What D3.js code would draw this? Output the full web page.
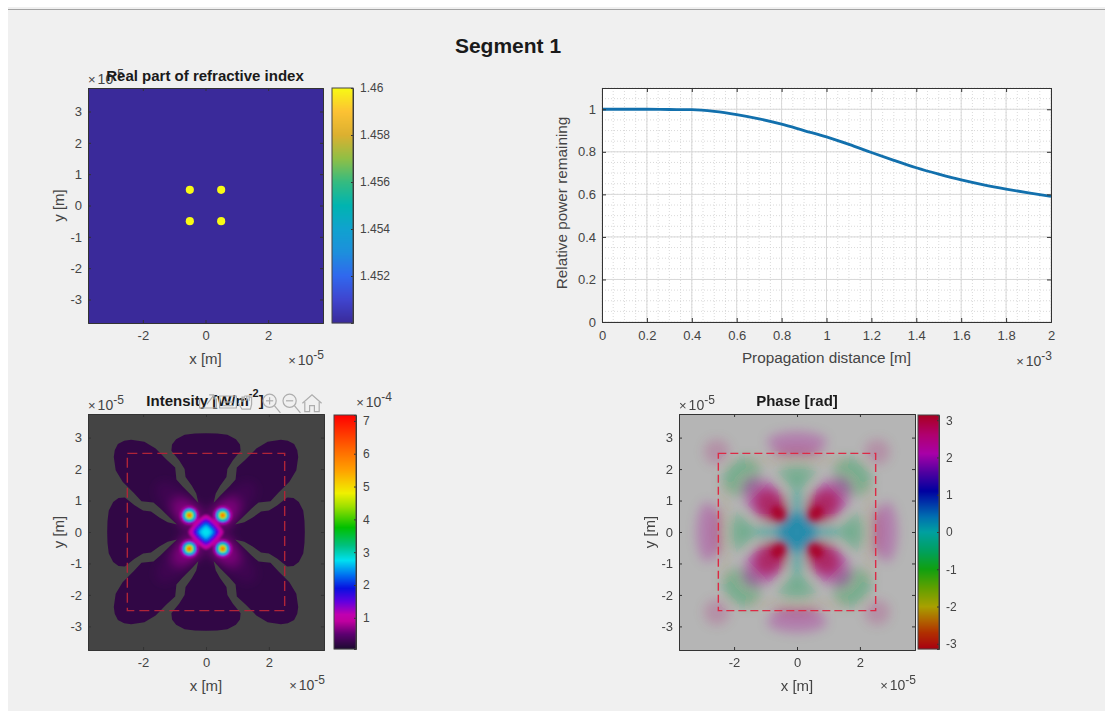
<!DOCTYPE html>
<html>
<head>
<meta charset="utf-8">
<script src="https://d3js.org/d3.v7.min.js"></script>
<style>
  html, body { margin: 0; padding: 0; background: #fff; overflow: hidden; }
  text { font-family: "Liberation Sans", Arial, sans-serif; }
</style>
</head>
<body>
<div id="chart"></div>
<script>
// --- data ---
const spatialTicks = [-3, -2, -1, 0, 1, 2, 3];
const spatialTicksX = [-2, 0, 2];
const spatialExtent = [-3.75, 3.75];

// refractive index panel: core centres (1e-5 m) and radius
const coreCentres = [[-0.5, 0.5], [0.5, 0.5], [-0.5, -0.5], [0.5, -0.5]];
const coreRadius = 0.13;
const coreIndex = 1.46;
const claddingIndex = 1.45;
const indexTicks = [1.452, 1.454, 1.456, 1.458, 1.46];
const indexStops = [1.45, 1.451, 1.452, 1.453, 1.454, 1.455, 1.456, 1.457, 1.458, 1.459, 1.46];
const indexColors = ["#3a2a9a", "#3f45cf", "#3068ee", "#1d8fdc", "#10a2cf", "#00b4b0", "#35bb80", "#90bf45", "#dcb030", "#fcc233", "#f8fa14"];

// power curve
const distance = [0, 0.1, 0.2, 0.3, 0.4, 0.5, 0.6, 0.7, 0.8, 0.9, 1, 1.1, 1.2, 1.3, 1.4, 1.5, 1.6, 1.7, 1.8, 1.9, 2];
const power = [1, 1, 1, 0.999, 0.998, 0.99, 0.975, 0.955, 0.93, 0.9, 0.87, 0.835, 0.797, 0.76, 0.725, 0.695, 0.668, 0.645, 0.625, 0.607, 0.59];
const distanceTicks = [0, 0.2, 0.4, 0.6, 0.8, 1, 1.2, 1.4, 1.6, 1.8, 2];
const powerTicks = [0, 0.2, 0.4, 0.6, 0.8, 1];
const minorDistance = d3.range(0, 2.001, 0.05);
const minorPower = d3.range(0, 1.101, 0.05);

// intensity panel (values in 1e-4 W/m^2, lengths in 1e-5 m)
const intensityTicks = [1, 2, 3, 4, 5, 6, 7];
const intensityStops = [0.05, 0.5, 0.9, 1.1, 1.5, 1.9, 2.3, 2.75, 3.2, 3.75, 4.4, 4.8, 5.5, 6.2, 7.18];
const intensityColors = ["#1c0a30", "#5c0070", "#c000a0", "#c000b0", "#6000e0", "#0810e0", "#0070f0", "#00e0f0", "#00c080", "#00c000", "#a0e000", "#f0f000", "#ffa000", "#ff6000", "#ff0000"];
// outline of the non-zero region, one octant, from top axis to the diagonal
const lobeOutline = [[0, 3.14], [0.35, 3.13], [0.68, 3.09], [0.95, 2.95], [1.08, 2.78], [1.1, 2.58], [0.85, 2.27], [0.68, 2.0], [0.65, 1.75], [0.45, 1.47], [0.31, 1.22], [0.24, 0.92], [0.45, 1.15], [0.75, 1.45], [0.94, 1.67], [0.98, 2.05], [1.25, 2.3], [1.6, 2.65], [1.96, 2.87], [2.38, 2.93], [2.6, 2.9], [2.8, 2.8]];
const floorIntensity = 0.2;
// x, y, rx, ry, angle, value, alpha
const intensityHaze = [
  [1.0, 1.0, 0.75, 0.4, 45, 0.5, 0.28],
  [0.75, 0.75, 0.42, 0.34, 45, 0.8, 0.45],
  [0.42, 0, 0.45, 0.1, 0, 0.5, 0.35],
  [0.53, 0.53, 0.42, 0.42, 0, 0.7, 0.7]
];
const intensityPeaks = [
  [0.53, 0.53, 0.3, 0.3, 0, 1.0, 1],
  [0.53, 0.53, 0.24, 0.24, 0, 1.9, 1],
  [0.53, 0.53, 0.19, 0.19, 0, 2.75, 1],
  [0.53, 0.53, 0.14, 0.14, 0, 3.75, 1],
  [0.53, 0.53, 0.1, 0.1, 0, 4.8, 1],
  [0.53, 0.53, 0.06, 0.06, 0, 6.6, 1]
];
// central diamond: half diagonal and value
const diamondRings = [[0.56, 0.9], [0.47, 1.1], [0.41, 1.5], [0.34, 1.9], [0.28, 2.3], [0.21, 2.6], [0.13, 2.75]];

// phase panel
const phaseTicks = [-3, -2, -1, 0, 1, 2, 3];
const phaseStops = [-3.14, -2.7, -2.4, -2, -1.5, -1, -0.5, 0, 0.4, 0.8, 1.1, 1.6, 2.1, 2.6, 3.14];
const phaseColors = ["#a80010", "#b03000", "#b06000", "#a8a000", "#60a000", "#10a010", "#00a060", "#00a0a0", "#0070b0", "#0030a8", "#0000a0", "#5000a0", "#a800a8", "#b00070", "#a80020"];
// x, y, rx, ry, angle, phase, alpha
const phaseLobes = [
  [0, 2.85, 0.95, 0.34, 0, 2.2, 0.3],
  [0, 2.5, 0.8, 0.14, 0, 3, 0.32],
  [2.55, 2.55, 0.4, 0.4, 0, 2.6, 0.2],
  [1.0, 2.3, 0.75, 0.08, 0, -2.3, 0.12],
  [1.75, 1.75, 0.66, 0.55, 135, -0.7, 0.32],
  [0, 1.85, 0.6, 0.36, 0, -0.7, 0.26],
  [0, 1.4, 0.3, 0.45, 0, -0.5, 0.22],
  [0, 0.8, 0.24, 0.42, 0, 0, 0.45],
  [1.05, 1.05, 0.82, 0.56, 45, 2.2, 0.42],
  [0.82, 0.82, 0.62, 0.46, 45, 2.95, 0.6],
  [0, 0, 0.62, 0.62, 0, 0.25, 0.78]
];
const phaseCores = [[0.6, 0.6, 0.26, 0.2, 45, 3.1, 0.95]];
const guideBox = 2.5;

// --- layout ---
const W = 1105, H = 711;
const tickColor = "#444";
const panels = {
  index: { left: 88, top: 88, size: 235, expY: 42, cbLeft: 332, cbTop: 88, cbW: 21, cbH: 235 },
  line: { left: 602, top: 88, width: 449, height: 234 },
  intensity: { left: 88, top: 414, size: 236, expY: 40, cbLeft: 334, cbTop: 415, cbW: 22, cbH: 234 },
  phase: { left: 679, top: 414, size: 236, expY: 40, cbLeft: 918, cbTop: 415, cbW: 21, cbH: 234 }
};

const svg = d3.select("#chart").append("svg")
  .attr("width", W)
  .attr("height", H)
  .style("display", "block");

const defs = svg.append("defs");
[["blur1", 1.1], ["blur3", 5], ["blur5", 5.5], ["blurCore", 3]].forEach(([id, s]) => {
  defs.append("filter").attr("id", id)
    .attr("x", "-50%").attr("y", "-50%").attr("width", "200%").attr("height", "200%")
    .append("feGaussianBlur").attr("stdDeviation", s);
});

svg.append("rect").attr("x", 8).attr("y", 7).attr("width", W - 8).attr("height", H - 7).attr("fill", "#f0f0f0");
svg.append("line").attr("x1", 8).attr("x2", W).attr("y1", 9.5).attr("y2", 9.5).attr("stroke", "#a3a3a3").attr("stroke-width", 1.2);

svg.append("text").attr("x", 508).attr("y", 53).attr("text-anchor", "middle")
  .attr("font-size", 21).attr("font-weight", "bold").attr("fill", "#1a1a1a").text("Segment 1");

// D4 symmetry, used to copy a quarter of a pattern over the whole field
const symmetry = [[1, 0, 0, 1], [-1, 0, 0, 1], [1, 0, 0, -1], [-1, 0, 0, -1], [0, 1, 1, 0], [0, -1, 1, 0], [0, 1, -1, 0], [0, -1, -1, 0]];

function mirrored(rows) {
  const out = [];
  rows.forEach(r => {
    const seen = new Set();
    symmetry.forEach(([a, b, c, d]) => {
      const x = a * r[0] + b * r[1], y = c * r[0] + d * r[1];
      const key = x.toFixed(3) + "," + y.toFixed(3);
      if (seen.has(key)) return;
      seen.add(key);
      const t = r[4] * Math.PI / 180;
      const ang = Math.atan2(c * Math.cos(t) + d * Math.sin(t), a * Math.cos(t) + b * Math.sin(t)) * 180 / Math.PI;
      out.push({ x: x, y: y, rx: r[2], ry: r[3], angle: ang, value: r[5], alpha: r[6] });
    });
  });
  return out;
}

function fullOutline(oct) {
  const rev = oct.slice().reverse();
  return [
    ...oct,
    ...rev.map(([x, y]) => [y, x]),
    ...oct.map(([x, y]) => [y, -x]),
    ...rev.map(([x, y]) => [x, -y]),
    ...oct.map(([x, y]) => [-x, -y]),
    ...rev.map(([x, y]) => [-y, -x]),
    ...oct.map(([x, y]) => [-y, x]),
    ...rev.map(([x, y]) => [-x, y])
  ];
}

function exponentLabel(g, x, y, anchor, power) {
  const t = g.append("text").attr("x", x).attr("y", y).attr("text-anchor", anchor).attr("fill", tickColor).attr("font-size", 14);
  t.append("tspan").attr("font-size", 13).text("\u00d7");
  t.append("tspan").attr("dx", 2).text("10");
  t.append("tspan").attr("dy", -6).attr("font-size", 12).text(power);
}

function styleAxis(g, ticksOnly, fontSize) {
  g.select(".domain").attr("stroke", "#333").attr("stroke-width", 1);
  g.selectAll(".tick line").attr("stroke", "#333");
  g.selectAll(".tick text").attr("fill", tickColor).style("font-size", (fontSize || 13) + "px")
    .style("font-family", '"Liberation Sans", Arial, sans-serif');
  if (ticksOnly) g.selectAll(".tick text").remove();
}

// image panel frame: scales, clip, box axes, labels
function imagePanel(p, id) {
  const g = svg.append("g").attr("transform", `translate(${p.left},${p.top})`);
  const x = d3.scaleLinear().domain(spatialExtent).range([0, p.size]);
  const y = d3.scaleLinear().domain(spatialExtent).range([p.size, 0]);
  defs.append("clipPath").attr("id", id).append("rect").attr("width", p.size).attr("height", p.size);
  const body = g.append("g").attr("clip-path", `url(#${id})`);
  return { g, x, y, body, p };
}

function finishPanel(panel) {
  const { g, x, y, p } = panel;
  g.append("g").attr("transform", `translate(0,${p.size})`)
    .call(d3.axisBottom(x).tickValues(spatialTicksX).tickSize(-3).tickPadding(8).tickFormat(String)).call(a => styleAxis(a));
  g.append("g").call(d3.axisLeft(y).tickValues(spatialTicks).tickSize(-3).tickPadding(6).tickFormat(String)).call(a => styleAxis(a));
  g.append("g").call(d3.axisTop(x).tickValues(spatialTicksX).tickSize(-3)).call(a => styleAxis(a, true));
  g.append("g").attr("transform", `translate(${p.size},0)`).call(d3.axisRight(y).tickValues(spatialTicks).tickSize(-3)).call(a => styleAxis(a, true));
  g.append("text").attr("x", p.size / 2).attr("y", p.size + 41).attr("text-anchor", "middle")
    .attr("fill", tickColor).attr("font-size", 15).text("x [m]");
  g.append("text").attr("transform", `translate(-24,${p.size / 2}) rotate(-90)`).attr("text-anchor", "middle")
    .attr("fill", tickColor).attr("font-size", 15).text("y [m]");
  exponentLabel(g, p.size + 1, p.size + p.expY, "end", "-5");
  exponentLabel(g, 0, -4, "start", "-5");
}

function colorbar(p, domain, color, ticks, format) {
  const g = svg.append("g").attr("transform", `translate(${p.cbLeft},${p.cbTop})`);
  const y = d3.scaleLinear().domain(domain).range([p.cbH, 0]);
  g.selectAll("rect").data(d3.range(p.cbH)).enter().append("rect")
    .attr("x", 0).attr("y", d => d).attr("width", p.cbW).attr("height", 1.2)
    .attr("fill", d => color(y.invert(d + 0.5)));
  const ax = g.append("g").attr("transform", `translate(${p.cbW},0)`)
    .call(d3.axisRight(y).tickValues(ticks).tickSize(-2).tickPadding(7).tickFormat(format));
  styleAxis(ax, false, 12);
  g.append("rect").attr("width", p.cbW).attr("height", p.cbH).attr("fill", "none").attr("stroke", "#444").attr("stroke-width", 1);
  return g;
}

function drawLobes(sel, rows, panel, color) {
  const { x, y } = panel;
  const ux = x(1) - x(0);
  sel.selectAll("ellipse").data(mirrored(rows)).enter().append("ellipse")
    .attr("transform", d => `translate(${x(d.x)},${y(d.y)}) rotate(${-d.angle})`)
    .attr("rx", d => d.rx * ux)
    .attr("ry", d => d.ry * ux)
    .attr("fill", d => color(d.value))
    .attr("opacity", d => d.alpha);
}

function drawGuide(panel, stroke, dash) {
  const { x, y, body } = panel;
  body.append("rect")
    .attr("x", x(-guideBox)).attr("y", y(guideBox))
    .attr("width", x(guideBox) - x(-guideBox)).attr("height", y(-guideBox) - y(guideBox))
    .attr("fill", "none").attr("stroke", stroke).attr("stroke-width", 1.4).attr("stroke-dasharray", dash);
}

// ---- top left: refractive index
const indexColor = d3.scaleLinear().domain(indexStops).range(indexColors);
const pIndex = imagePanel(panels.index, "clipIndex");
pIndex.body.append("rect").attr("width", panels.index.size).attr("height", panels.index.size).attr("fill", indexColor(claddingIndex));
pIndex.body.selectAll("circle").data(coreCentres).enter().append("circle")
  .attr("cx", d => pIndex.x(d[0])).attr("cy", d => pIndex.y(d[1]))
  .attr("r", pIndex.x(coreRadius) - pIndex.x(0)).attr("fill", indexColor(coreIndex));
finishPanel(pIndex);
colorbar(panels.index, [claddingIndex, coreIndex], indexColor, indexTicks, String);
svg.append("text").attr("x", 205).attr("y", 81).attr("text-anchor", "middle")
  .attr("font-size", 15).attr("font-weight", "bold").attr("fill", "#1a1a1a").text("Real part of refractive index");

// ---- top right: power
(function () {
  const p = panels.line;
  const g = svg.append("g").attr("transform", `translate(${p.left},${p.top})`);
  const x = d3.scaleLinear().domain([0, 2]).range([0, p.width]);
  const y = d3.scaleLinear().domain([0, 1.1]).range([p.height, 0]);
  g.append("rect").attr("width", p.width).attr("height", p.height).attr("fill", "#fff");
  g.selectAll(".minorx").data(minorDistance).enter().append("line").attr("class", "minorx")
    .attr("x1", d => x(d)).attr("x2", d => x(d)).attr("y1", 0).attr("y2", p.height)
    .attr("stroke", "#d0d0d0").attr("stroke-width", 0.8).attr("stroke-dasharray", "1,2");
  g.selectAll(".minory").data(minorPower).enter().append("line").attr("class", "minory")
    .attr("y1", d => y(d)).attr("y2", d => y(d)).attr("x1", 0).attr("x2", p.width)
    .attr("stroke", "#d0d0d0").attr("stroke-width", 0.8).attr("stroke-dasharray", "1,2");
  g.selectAll(".majorx").data(distanceTicks).enter().append("line").attr("class", "majorx")
    .attr("x1", d => x(d)).attr("x2", d => x(d)).attr("y1", 0).attr("y2", p.height)
    .attr("stroke", "#d8d8d8").attr("stroke-width", 1);
  g.selectAll(".majory").data(powerTicks).enter().append("line").attr("class", "majory")
    .attr("y1", d => y(d)).attr("y2", d => y(d)).attr("x1", 0).attr("x2", p.width)
    .attr("stroke", "#d8d8d8").attr("stroke-width", 1);
  g.append("path").datum(distance.map((d, i) => [d, power[i]]))
    .attr("fill", "none").attr("stroke", "#1270ad").attr("stroke-width", 2.8)
    .attr("d", d3.line().x(d => x(d[0])).y(d => y(d[1])).curve(d3.curveMonotoneX));
  g.append("g").attr("transform", `translate(0,${p.height})`)
    .call(d3.axisBottom(x).tickValues(distanceTicks).tickSize(-4).tickPadding(9).tickFormat(String)).call(a => styleAxis(a));
  g.append("g").call(d3.axisLeft(y).tickValues(powerTicks).tickSize(-4).tickPadding(6).tickFormat(String)).call(a => styleAxis(a));
  g.append("g").call(d3.axisTop(x).tickValues(distanceTicks).tickSize(-4)).call(a => styleAxis(a, true));
  g.append("g").attr("transform", `translate(${p.width},0)`).call(d3.axisRight(y).tickValues(powerTicks).tickSize(-4)).call(a => styleAxis(a, true));
  g.append("text").attr("x", p.width / 2).attr("y", p.height + 41).attr("text-anchor", "middle")
    .attr("fill", tickColor).attr("font-size", 15.3).text("Propagation distance [m]");
  g.append("text").attr("transform", `translate(-35,${p.height / 2 - 2}) rotate(-90)`).attr("text-anchor", "middle")
    .attr("fill", tickColor).attr("font-size", 15.3).text("Relative power remaining");
  exponentLabel(g, p.width + 1, p.height + 44, "end", "-3");
})();

// ---- bottom left: intensity
const intensityColor = d3.scaleLinear().domain(intensityStops).range(intensityColors);
const pInt = imagePanel(panels.intensity, "clipInt");
pInt.body.append("rect").attr("width", panels.intensity.size).attr("height", panels.intensity.size).attr("fill", "#444444");
const outlineLine = d3.line().x(d => pInt.x(d[0])).y(d => pInt.y(d[1])).curve(d3.curveLinearClosed);
pInt.body.append("path").attr("d", outlineLine(fullOutline(lobeOutline))).attr("fill", intensityColor(floorIntensity));
defs.append("clipPath").attr("id", "clipLobes").append("path").attr("d", outlineLine(fullOutline(lobeOutline)));
const lobeLayer = pInt.body.append("g").attr("clip-path", "url(#clipLobes)");
drawLobes(lobeLayer.append("g").attr("filter", "url(#blur3)"), intensityHaze, pInt, intensityColor);
const glow = lobeLayer.append("g").attr("filter", "url(#blur1)");
const diamondLine = d3.line().curve(d3.curveCardinalClosed.tension(0.3));
glow.selectAll("path").data(diamondRings).enter().append("path")
  .attr("d", d => diamondLine([[0, 1], [1, 0], [0, -1], [-1, 0]].map(q => [pInt.x(q[0] * d[0]), pInt.y(q[1] * d[0])])))
  .attr("fill", d => intensityColor(d[1]));
drawLobes(glow, intensityPeaks, pInt, intensityColor);
drawGuide(pInt, "#b02438", "10,5");
finishPanel(pInt);
const intensityDomain = [intensityStops[0], intensityStops[intensityStops.length - 1]];
colorbar(panels.intensity, intensityDomain, intensityColor, intensityTicks, String);
exponentLabel(svg, 392, 407, "end", "-4");

const intTitle = svg.append("text").attr("x", 205).attr("y", 406).attr("text-anchor", "middle")
  .attr("font-size", 15).attr("font-weight", "bold").attr("fill", "#1a1a1a");
intTitle.append("tspan").text("Intensity [W/m");
intTitle.append("tspan").attr("dy", -9).attr("font-size", 11).text("-2");
intTitle.append("tspan").attr("dy", 9).text("]");

// axes toolbar sitting over the title
const toolbarIcons = [
  { cx: 208, paths: ["M-7 -3v8h14v-8", "M-1 2l6-8m0 0h-4m4 0v4"] },
  { cx: 228, paths: ["M-7 -5h14v10h-14z", "M-4 0h8", "M-4 3h8"] },
  { cx: 248, paths: ["M-5 0v-4h2v3m0-4h2v4m0-4h2v4m0-3h2v6l-1 4h-7l-3-5"] },
  { cx: 272, circle: true, paths: ["M2 3l5 6", "M-5 -1h6", "M-2 -4v6"] },
  { cx: 292, circle: true, paths: ["M2 3l5 6", "M-5 -1h6"] },
  { cx: 312, paths: ["M-8 1l8-7 8 7", "M-6 0v8h4v-5h4v5h4v-8"] }
];
const tb = svg.append("g").attr("fill", "none").attr("stroke", "#adadad").attr("stroke-width", 1);
toolbarIcons.forEach(icon => {
  const i = tb.append("g").attr("transform", `translate(${icon.cx},402) scale(1.2)`);
  if (icon.circle) i.append("circle").attr("cx", -2).attr("cy", -1).attr("r", 5.5);
  icon.paths.forEach(d => i.append("path").attr("d", d));
});

// ---- bottom right: phase
const phaseColor = d3.scaleLinear().domain(phaseStops).range(phaseColors);
const pPhase = imagePanel(panels.phase, "clipPhase");
pPhase.body.append("rect").attr("width", panels.phase.size).attr("height", panels.phase.size).attr("fill", "#b5b5b5");
drawLobes(pPhase.body.append("g").attr("filter", "url(#blur5)"), phaseLobes, pPhase, phaseColor);
drawLobes(pPhase.body.append("g").attr("filter", "url(#blurCore)"), phaseCores, pPhase, phaseColor);
drawGuide(pPhase, "#dc2a45", "8,4");
finishPanel(pPhase);
colorbar(panels.phase, [phaseStops[0], phaseStops[phaseStops.length - 1]], phaseColor, phaseTicks, String);
svg.append("text").attr("x", 797).attr("y", 406).attr("text-anchor", "middle")
  .attr("font-size", 15).attr("font-weight", "bold").attr("fill", "#1a1a1a").text("Phase [rad]");
</script>
</body>
</html>
